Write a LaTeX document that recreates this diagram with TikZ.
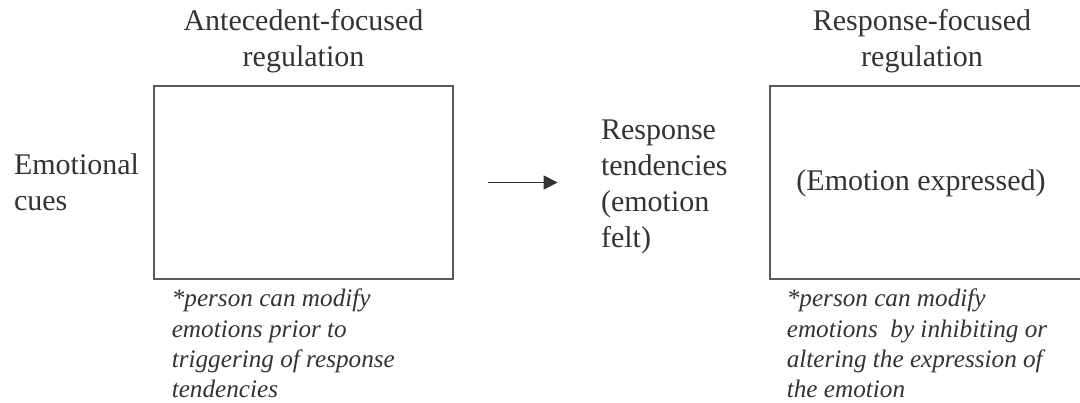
\documentclass[tikz,border=0pt]{standalone}
\usepackage{fontspec}
\setmainfont{Liberation Serif}
\usetikzlibrary{arrows.meta, positioning}

\begin{document}
\begin{tikzpicture}[x=0.5pt, y=-0.5pt,
	nodes={inner sep=0pt, text=black!80},
	stage/.style={draw=black!65, line width=0.6pt, minimum height=96.5pt},
	label/.style={font=\fontsize{15}{18}\selectfont, align=left},
	title/.style={label, align=center},
	note/.style={font=\fontsize{12.6}{15.2}\selectfont\itshape, align=left},
	flow/.style={draw=black!80, line width=0.6pt, -{Triangle[length=7pt, width=7pt]}}]
	
	\useasboundingbox (0,0) rectangle (1080,402);
	\clip (0,0) rectangle (1080,402);
	
	% the two regulation boxes (right one runs off the page)
	\node[stage, minimum width=149.5pt] (antecedent) at (303.5,182.5) {};
	\node[stage, minimum width=158pt] (response) at (928,182.5) {};
	\node[label] (expressed) at (921,183) {(Emotion expressed)};
	
	\node[title, above=6pt of antecedent] (antitle) {Antecedent-focused\\regulation};
	\node[title, above=6pt of response, xshift=-3pt] (restitle) {Response-focused\\regulation};
	
	\node[label, left=7pt of antecedent] (cues) {Emotional\\cues};
	\node[label, right=73.5pt of antecedent, yshift=-2pt] (tendencies) {Response\\tendencies\\(emotion\\felt)};
	
	\draw[flow, shorten <=17pt, shorten >=21.5pt] (antecedent.east) -- (antecedent.east -| tendencies.west);
	
	% notes under the boxes
	\node[note, below right=4.5pt and 9pt of antecedent.south west] (antnote) {*person can modify\\emotions prior to\\triggering of response\\tendencies};
	\node[note, below right=4.5pt and 8.5pt of response.south west] (resnote) {*person can modify\\emotions~ by inhibiting or\\altering the expression of\\the emotion};
	
\end{tikzpicture}
\end{document}
